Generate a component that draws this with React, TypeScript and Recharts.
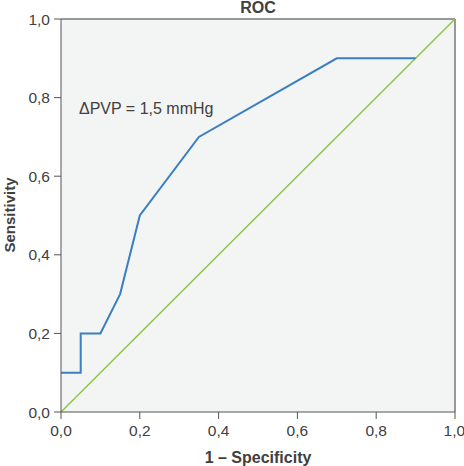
import React from "react";
import { LineChart, Line, XAxis, YAxis, CartesianGrid, ReferenceLine } from "recharts";

const fpr = [0, 0.05, 0.05, 0.1, 0.15, 0.2, 0.35, 0.7, 0.9];
const tpr = [0.1, 0.1, 0.2, 0.2, 0.3, 0.5, 0.7, 0.9, 0.9];
const diagX = [0, 1];
const diagY = [0, 1];
const axisTicks = [0, 0.2, 0.4, 0.6, 0.8, 1];
const title = "ROC";
const xTitle = "1 – Specificity";
const yTitle = "Sensitivity";
const annotation = "ΔPVP = 1,5 mmHg";

const rocData = fpr.map((x, i) => ({ x, y: tpr[i] }));
const diagData = diagX.map((x, i) => ({ x, y: diagY[i] }));
const fmt = (v: number) => v.toFixed(1).replace(".", ",");

const font = "Arial, 'Liberation Sans', Helvetica, sans-serif";
const textColor = "#404040";
const axisColor = "#555555";

export default function App() {
  return (
    <div style={{ position: "absolute", left: 0, top: 0, width: 464, height: 466, fontFamily: font }}>
      <LineChart
        width={464}
        height={466}
        margin={{ top: 19, right: 9, bottom: 0, left: 0 }}
      >
        <CartesianGrid fill="#f3f4f4" horizontal={false} vertical={false} />
        <XAxis
          type="number"
          dataKey="x"
          domain={[0, 1]}
          ticks={axisTicks}
          tickFormatter={fmt}
          height={54}
          tickSize={7}
          tickMargin={6}
          stroke={axisColor}
          tick={{ fill: textColor, fontSize: 15.5, fontFamily: font }}
          allowDataOverflow
        />
        <YAxis
          type="number"
          dataKey="y"
          domain={[0, 1]}
          ticks={axisTicks}
          tickFormatter={fmt}
          width={61}
          tickSize={7}
          tickMargin={4}
          stroke={axisColor}
          tick={{ fill: textColor, fontSize: 15.5, fontFamily: font }}
          allowDataOverflow
        />
        <ReferenceLine y={1} stroke="#777777" strokeWidth={1.5} />
        <ReferenceLine x={1} stroke="#777777" strokeWidth={1.5} />
        <Line
          data={diagData}
          dataKey="y"
          type="linear"
          stroke="#8dc63f"
          strokeWidth={1.5}
          dot={false}
          isAnimationActive={false}
        />
        <Line
          data={rocData}
          dataKey="y"
          type="linear"
          stroke="#3a7fc1"
          strokeWidth={2}
          dot={false}
          isAnimationActive={false}
        />
      </LineChart>
      <div
        style={{
          position: "absolute",
          left: 158,
          width: 200,
          top: 0,
          textAlign: "center",
          fontWeight: "bold",
          fontSize: 16,
          lineHeight: "16px",
          color: textColor,
        }}
      >
        {title}
      </div>
      <div
        style={{
          position: "absolute",
          left: 158,
          width: 200,
          top: 449,
          textAlign: "center",
          fontWeight: "bold",
          fontSize: 16,
          color: textColor,
          whiteSpace: "nowrap",
        }}
      >
        {xTitle}
      </div>
      <div
        style={{
          position: "absolute",
          left: 10 - 60,
          width: 120,
          top: 215 - 9,
          textAlign: "center",
          fontWeight: "bold",
          fontSize: 15,
          color: textColor,
          transform: "rotate(-90deg)",
          transformOrigin: "50% 50%",
          lineHeight: "18px",
        }}
      >
        {yTitle}
      </div>
      <div
        style={{
          position: "absolute",
          left: 79,
          top: 100,
          fontSize: 16,
          color: textColor,
          whiteSpace: "nowrap",
        }}
      >
        {annotation}
      </div>
    </div>
  );
}
